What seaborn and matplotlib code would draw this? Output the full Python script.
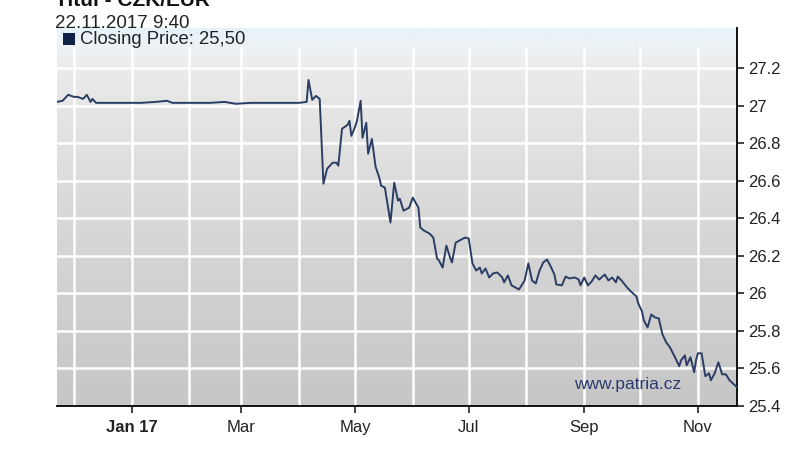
import numpy as np
import pandas as pd
import matplotlib
matplotlib.use('Agg')
import matplotlib.pyplot as plt
import matplotlib.dates as mdates
from matplotlib.colors import LinearSegmentedColormap
from matplotlib.patches import Rectangle
from matplotlib.ticker import FuncFormatter
import seaborn as sns

# CZK/EUR closing prices
dates = [
    '2016-11-22', '2016-11-25', '2016-11-28', '2016-12-01', '2016-12-03', '2016-12-06',
    '2016-12-08', '2016-12-10', '2016-12-11', '2016-12-13', '2016-12-18', '2016-12-26',
    '2017-01-06', '2017-01-14', '2017-01-20', '2017-01-23', '2017-02-02', '2017-02-12',
    '2017-02-20', '2017-02-26', '2017-03-06', '2017-03-16', '2017-03-27', '2017-04-01',
    '2017-04-05', '2017-04-06', '2017-04-08', '2017-04-10', '2017-04-12', '2017-04-14',
    '2017-04-16', '2017-04-19', '2017-04-21', '2017-04-22', '2017-04-24', '2017-04-27',
    '2017-04-28', '2017-04-29', '2017-05-01', '2017-05-02', '2017-05-04', '2017-05-05',
    '2017-05-07', '2017-05-08', '2017-05-10', '2017-05-12', '2017-05-14', '2017-05-15',
    '2017-05-17', '2017-05-20', '2017-05-22', '2017-05-24', '2017-05-25', '2017-05-27',
    '2017-05-29', '2017-05-30', '2017-06-01', '2017-06-04', '2017-06-05', '2017-06-07',
    '2017-06-10', '2017-06-12', '2017-06-14', '2017-06-15', '2017-06-17', '2017-06-19',
    '2017-06-21', '2017-06-22', '2017-06-24', '2017-06-26', '2017-06-29', '2017-07-01',
    '2017-07-03', '2017-07-05', '2017-07-07', '2017-07-08', '2017-07-10', '2017-07-12',
    '2017-07-14', '2017-07-16', '2017-07-17', '2017-07-19', '2017-07-20', '2017-07-22',
    '2017-07-24', '2017-07-26', '2017-07-28', '2017-07-30', '2017-07-31', '2017-08-02',
    '2017-08-04', '2017-08-06', '2017-08-08', '2017-08-10', '2017-08-12', '2017-08-14',
    '2017-08-16', '2017-08-17', '2017-08-20', '2017-08-22', '2017-08-24', '2017-08-27',
    '2017-08-29', '2017-08-30', '2017-09-01', '2017-09-03', '2017-09-05', '2017-09-07',
    '2017-09-09', '2017-09-12', '2017-09-14', '2017-09-16', '2017-09-18', '2017-09-19',
    '2017-09-21', '2017-09-24', '2017-09-26', '2017-09-29', '2017-09-30', '2017-10-02',
    '2017-10-03', '2017-10-05', '2017-10-07', '2017-10-09', '2017-10-11', '2017-10-13',
    '2017-10-15', '2017-10-17', '2017-10-20', '2017-10-22', '2017-10-23', '2017-10-25',
    '2017-10-26', '2017-10-28', '2017-10-30', '2017-10-31', '2017-11-01', '2017-11-03',
    '2017-11-05', '2017-11-07', '2017-11-08', '2017-11-10', '2017-11-12', '2017-11-14',
    '2017-11-16', '2017-11-18', '2017-11-22',
]
prices = [
    27.021, 27.027, 27.059, 27.048, 27.048, 27.037,
    27.059, 27.021, 27.037, 27.016, 27.016, 27.016,
    27.016, 27.021, 27.027, 27.016, 27.016, 27.016,
    27.021, 27.011, 27.016, 27.016, 27.016, 27.016,
    27.021, 27.138, 27.032, 27.053, 27.037, 26.585,
    26.665, 26.697, 26.697, 26.681, 26.878, 26.899,
    26.920, 26.840, 26.888, 26.920, 27.027, 26.830,
    26.910, 26.745, 26.824, 26.676, 26.617, 26.574,
    26.564, 26.378, 26.590, 26.495, 26.505, 26.441,
    26.452, 26.457, 26.511, 26.457, 26.351, 26.335,
    26.319, 26.298, 26.186, 26.176, 26.138, 26.255,
    26.191, 26.165, 26.271, 26.282, 26.298, 26.293,
    26.160, 26.122, 26.138, 26.106, 26.133, 26.085,
    26.106, 26.112, 26.106, 26.085, 26.059, 26.096,
    26.043, 26.032, 26.021, 26.053, 26.069, 26.160,
    26.069, 26.053, 26.122, 26.165, 26.181, 26.144,
    26.101, 26.048, 26.043, 26.090, 26.080, 26.085,
    26.074, 26.043, 26.085, 26.043, 26.064, 26.096,
    26.074, 26.101, 26.069, 26.085, 26.059, 26.090,
    26.069, 26.032, 26.011, 25.984, 25.947, 25.904,
    25.856, 25.819, 25.888, 25.872, 25.867, 25.782,
    25.739, 25.713, 25.654, 25.612, 25.644, 25.670,
    25.617, 25.660, 25.580, 25.644, 25.681, 25.681,
    25.559, 25.574, 25.537, 25.574, 25.633, 25.569,
    25.569, 25.537, 25.500,
]

y_ticks = [25.4, 25.6, 25.8, 26.0, 26.2, 26.4, 26.6, 26.8, 27.0, 27.2]
x_tick_dates = ['2017-01-01', '2017-03-01', '2017-05-01', '2017-07-01', '2017-09-01', '2017-11-01']
x_tick_labels = ['Jan 17', 'Mar', 'May', 'Jul', 'Sep', 'Nov']

title = 'Titul - CZK/EUR'
timestamp = '22.11.2017 9:40'
legend_label = 'Closing Price: 25,50'
watermark = 'www.patria.cz'

LINE_COLOR = '#2a3d64'
NAVY = '#0f2147'

plt.rcParams['font.family'] = ['Liberation Sans', 'DejaVu Sans']

df = pd.DataFrame({'date': pd.to_datetime(dates), 'price': prices})

W, H = 800, 449
fig = plt.figure(figsize=(W / 100, H / 100), dpi=100)
fig.patch.set_facecolor('white')

# plot area in pixels: x 57..737, y 28..406
ax = fig.add_axes([57 / W, 1 - 406 / H, 680 / W, 378 / H])

# gradient background (light blue band at top, grey towards bottom)
cmap = LinearSegmentedColormap.from_list('bg', [
    (0.0, '#c6c6c6'),
    (0.55, '#dadada'),
    (0.90, '#ebebeb'),
    (0.95, '#eef2f5'),
    (1.0, '#e6f2fa'),
])
grad = np.linspace(0, 1, 256).reshape(-1, 1)
ax.imshow(grad, cmap=cmap, aspect='auto', origin='lower',
          extent=[0, 1, 0, 1], transform=ax.transAxes, zorder=0)

x0 = pd.Timestamp('2016-11-22')
x1 = pd.Timestamp('2017-11-22')
y0, y1 = 25.4, 27.415

# white grid
for yv in y_ticks[1:]:
    ax.axhline(yv, color='white', linewidth=1.8, zorder=1)
for m in pd.date_range('2016-12-01', '2017-11-01', freq='MS'):
    ax.axvline(m, ymax=0.947, color='white', linewidth=1.8, zorder=1)

sns.lineplot(data=df, x='date', y='price', ax=ax, color=LINE_COLOR,
             linewidth=1.4, zorder=3)

ax.set_xlim(x0, x1)
ax.set_ylim(y0, y1)
ax.set_xlabel('')
ax.set_ylabel('')

ax.yaxis.tick_right()
ax.set_yticks(y_ticks)
ax.yaxis.set_major_formatter(FuncFormatter(lambda v, p: f'{v:g}'))
ax.set_xticks(pd.to_datetime(x_tick_dates))
ax.set_xticklabels(x_tick_labels)
ax.get_xticklabels()[0].set_fontweight('bold')

ax.tick_params(axis='y', direction='out', length=5, width=1.2, pad=3,
               labelsize=12, colors='#222222')
ax.tick_params(axis='x', direction='out', length=5, width=1.2, pad=5,
               labelsize=12, colors='#222222')

for side in ['top', 'left']:
    ax.spines[side].set_visible(False)
for side in ['bottom', 'right']:
    ax.spines[side].set_color('#111111')
    ax.spines[side].set_linewidth(1.4)

# header texts
fig.text(55 / W, 1 - 6 / H, title, fontsize=15, fontweight='bold',
         color='#111111', va='baseline', ha='left')
fig.text(55 / W, 1 - 28 / H, timestamp, fontsize=13.5,
         color='#222222', va='baseline', ha='left')

# legend square + label
fig.patches.append(Rectangle((63 / W, 1 - 45 / H), 12 / W, 12 / H,
                             transform=fig.transFigure, facecolor=NAVY,
                             edgecolor='none', zorder=5))
fig.text(80 / W, 1 - 44 / H, legend_label, fontsize=13.3,
         color='#222222', va='baseline', ha='left', zorder=5)

# watermark
ax.text(628 / W * W / 680 - 57 / 680, (406 - 384) / 378, watermark,
        transform=ax.transAxes, fontsize=12.5, color='#2a3a6e',
        ha='center', va='center', zorder=4)

fig.savefig('out.png', dpi=100)
